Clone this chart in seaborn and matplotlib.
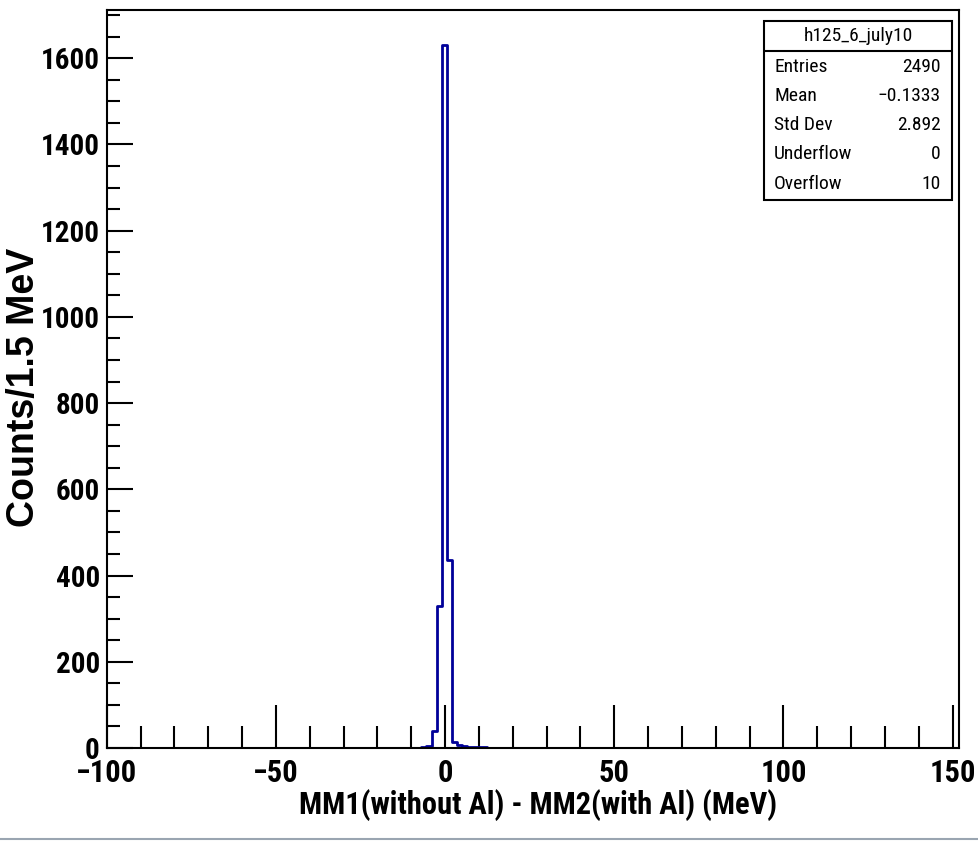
import numpy as np
import seaborn as sns
import matplotlib.pyplot as plt
from matplotlib.ticker import MultipleLocator
from matplotlib.patches import Rectangle
from matplotlib.lines import Line2D

# bin edges (MeV) and counts per 1.5 MeV bin
bin_edges = [-7.0, -5.5, -4.0, -2.5, -1.0, 0.5, 2.0, 3.5, 5.0, 6.5, 8.0, 9.5, 11.0, 12.5, 14.0, 15.5]
counts = [3, 5, 40, 330, 1630, 435, 14, 8, 4, 3, 3, 2, 2, 1, 1]

hist_name = 'h125_6_july10'
stat_labels = ['Entries', 'Mean', 'Std Dev', 'Underflow', 'Overflow']
stat_values = ['2490', '\u22120.1333', '2.892', '0', '10']

x_label = 'MM1(without Al) - MM2(with Al) (MeV)'
y_label = 'Counts/1.5 MeV'

sns.set_style('ticks')
plt.rcParams['font.family'] = ['Roboto Condensed', 'DejaVu Sans']
plt.rcParams['text.color'] = 'black'
plt.rcParams['xtick.color'] = 'black'
plt.rcParams['ytick.color'] = 'black'

W, H = 979, 841
fig = plt.figure(figsize=(W / 100, H / 100), dpi=100)
ax = fig.add_axes([106.7 / W, 1 - 748 / H, (959 - 106.7) / W, (748 - 10) / H])

centers = [(a + b) / 2 for a, b in zip(bin_edges[:-1], bin_edges[1:])]
sns.histplot(x=centers, weights=counts, bins=bin_edges, element='step', fill=False,
             color='#000099', linewidth=2, ax=ax)

ax.set_xlim(-100, 151.9)
ax.set_ylim(0, 1712)

ax.xaxis.set_major_locator(MultipleLocator(50))
ax.xaxis.set_minor_locator(MultipleLocator(10))
ax.yaxis.set_major_locator(MultipleLocator(200))
ax.yaxis.set_minor_locator(MultipleLocator(50))

ax.tick_params(axis='x', which='major', direction='in', length=31, width=1.5,
               labelsize=22, pad=7, top=False)
ax.tick_params(axis='x', which='minor', direction='in', length=16, width=1.5, top=False)
ax.tick_params(axis='y', which='major', direction='in', length=19, width=1.5,
               labelsize=21, pad=5, right=False)
ax.tick_params(axis='y', which='minor', direction='in', length=9.5, width=1.5, right=False)
for lab in ax.get_xticklabels() + ax.get_yticklabels():
    lab.set_fontweight('bold')

for sp in ax.spines.values():
    sp.set_linewidth(1.5)
    sp.set_color('black')

ax.set_xlabel('')
ax.set_ylabel('')
fig.text(538 / W, 1 - 805 / H, x_label, ha='center', va='center',
         fontsize=22, fontweight='bold')
fig.text(24 / W, 1 - 387 / H, y_label, ha='center', va='center', rotation=90,
         fontsize=27, fontweight='bold', family=['Liberation Sans', 'DejaVu Sans'])

# stats box
def fx(x):
    return x / W

def fy(y):
    return 1 - y / H

box = Rectangle((fx(764), fy(200)), fx(952) - fx(764), fy(21) - fy(200),
                transform=fig.transFigure, facecolor='white', edgecolor='black',
                linewidth=1.5, zorder=5)
fig.add_artist(box)
fig.add_artist(Line2D([fx(764), fx(952)], [fy(51), fy(51)], transform=fig.transFigure,
                      color='black', linewidth=1.5, zorder=6))
fig.text(fx(858), fy(36), hist_name, ha='center', va='center', fontsize=14, zorder=7)
row_y = [67, 96, 125, 154, 184]
for lab, val, yy in zip(stat_labels, stat_values, row_y):
    fig.text(fx(774), fy(yy), lab, ha='left', va='center', fontsize=14, zorder=7)
    fig.text(fx(941), fy(yy), val, ha='right', va='center', fontsize=14, zorder=7)

fig.add_artist(Line2D([0, 1], [fy(839), fy(839)], transform=fig.transFigure,
                      color='#9aa5b1', linewidth=1.5))

fig.savefig('out.png', dpi=100)
